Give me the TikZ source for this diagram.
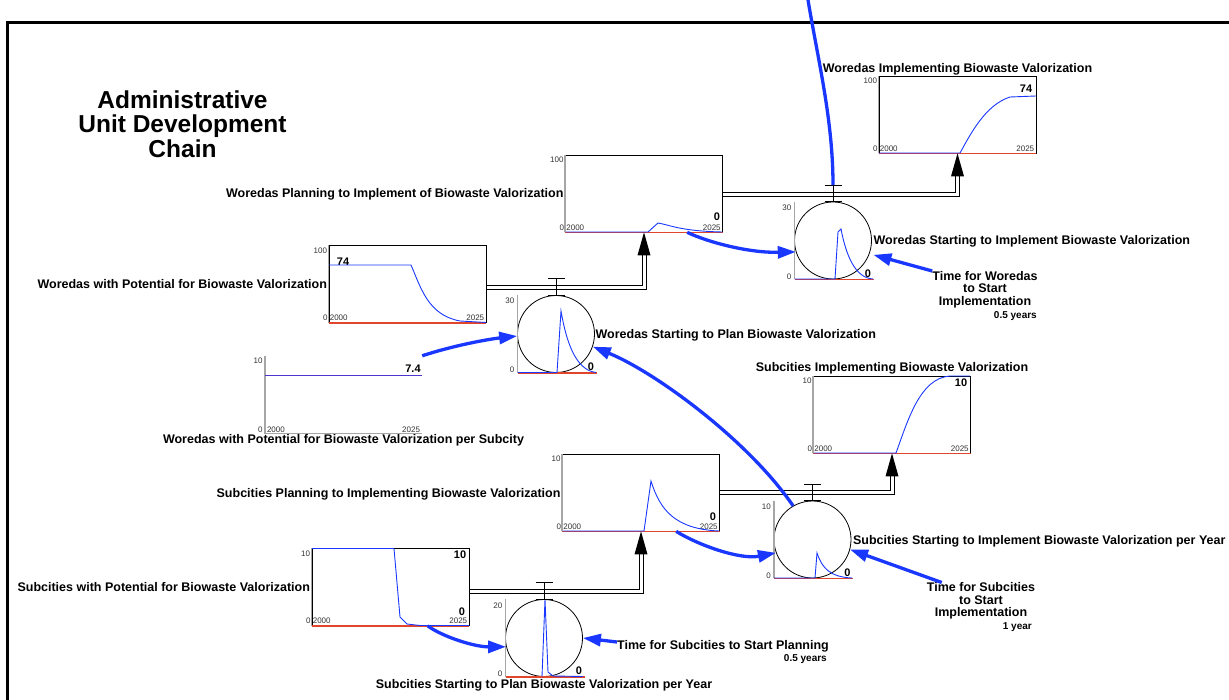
\documentclass[tikz,border=0pt]{standalone}
\usepackage{fontspec}
\setmainfont{Liberation Sans}
\usetikzlibrary{positioning,arrows.meta}
\definecolor{sdblue}{RGB}{25,55,255}
\definecolor{sdred}{RGB}{225,70,45}
\definecolor{sdpurple}{RGB}{75,55,205}
\tikzset{
  stock/.style={draw=black, line width=0.7pt, minimum width=157pt, minimum height=77pt, inner sep=0pt},
  flow/.style={circle, draw=black, line width=0.8pt, minimum size=77pt, inner sep=0pt},
  lbl/.style={font=\fontsize{12.5}{12.5}\selectfont\bfseries, inner sep=0pt, text height=9pt, text depth=0pt},
  mlbl/.style={font=\fontsize{12.5}{12.5}\selectfont\bfseries, inner sep=0pt, align=center},
  scalelbl/.style={font=\fontsize{8}{8}\selectfont, text=black!80, inner sep=0pt, text height=5.8pt, text depth=0pt},
  val/.style={font=\fontsize{11}{11}\selectfont\bfseries, inner sep=0pt, text height=8pt, text depth=0pt},
  unitlbl/.style={font=\fontsize{10}{10}\selectfont\bfseries, inner sep=0pt},
  axisline/.style={draw=black!35, line width=1.4pt},
  zeroline/.style={draw=sdred, line width=1.5pt},
  curve/.style={draw=sdblue, line width=0.9pt},
  pipeline/.style={draw=black, line width=0.8pt},
  valve/.style={draw=black, line width=0.9pt},
  link/.style={draw=sdblue, line width=3.3pt, -{Triangle[length=18pt,width=12pt]}},
  feed/.style={draw=sdblue, line width=3.3pt}
}
\begin{document}
\begin{tikzpicture}[x=1pt,y=-1pt]
  \useasboundingbox (0,0) rectangle (1229,700);
  \draw[line width=3pt] (7,700) -- (7,23) -- (1229,23);
  \node[font=\fontsize{24.5}{24.5}\selectfont\bfseries, align=center, inner sep=0pt] (title) at (182.5,124) {Administrative\\Unit Development\\Chain};

  % stocks
  \node[stock] (wpot) at (407.5,284) {};
  \node[stock] (wplan) at (644,193.5) {};
  \node[stock] (wimpl) at (957.5,114.5) {};
  \node[stock] (spot) at (390.5,587) {};
  \node[stock] (splan) at (641,492.5) {};
  \node[stock] (simpl) at (892,414.5) {};
  % flows
  \node[flow] (wsp) at (556,334) {};
  \node[flow] (wsi) at (833,240.5) {};
  \node[flow] (ssp) at (544,638) {};
  \node[flow] (ssi) at (812.5,539.5) {};
  % converter
  \node[minimum width=157pt, minimum height=77pt, inner sep=0pt] (wpsc) at (343.5,394.5) {};

  \node[lbl, left=1.5pt of wpot] (wpotl) {Woredas with Potential for Biowaste Valorization};
  \node[lbl, left=1.5pt of wplan] (wplanl) {Woredas Planning to Implement of Biowaste Valorization};
  \node[lbl, above=2.5pt of wimpl] (wimpll) {Woredas Implementing Biowaste Valorization};
  \node[lbl, left=1.5pt of spot] (spotl) {Subcities with Potential for Biowaste Valorization};
  \node[lbl, left=1.5pt of splan] (splanl) {Subcities Planning to Implementing Biowaste Valorization};
  \node[lbl, above=3.5pt of simpl] (simpll) {Subcities Implementing Biowaste Valorization};
  \node[lbl, right=0.5pt of wsp] (wspl) {Woredas Starting to Plan Biowaste Valorization};
  \node[lbl, right=1.5pt of wsi] (wsil) {Woredas Starting to Implement Biowaste Valorization};
  \node[lbl, below=2pt of ssp] (sspl) {Subcities Starting to Plan Biowaste Valorization per Year};
  \node[lbl, right=1.5pt of ssi] (ssil) {Subcities Starting to Implement Biowaste Valorization per Year};
  \node[lbl, below=1pt of wpsc] (wpscl) {Woredas with Potential for Biowaste Valorization per Subcity};

  \node[mlbl, anchor=north] (twsi) at (985,271) {Time for Woredas\\to Start\\Implementation};
  \node[unitlbl, anchor=base east] (twsiv) at (1037,319) {0.5 years};
  \node[mlbl, anchor=north] (tssi) at (981,582.5) {Time for Subcities\\to Start\\Implementation};
  \node[unitlbl, anchor=base east] (tssiv) at (1032,629.5) {1 year};
  \node[lbl, anchor=west] (tssp) at (617,645) {Time for Subcities to Start Planning};
  \node[unitlbl, anchor=base east] (tsspv) at (827,661.5) {0.5 years};

  \foreach \s/\m in {wpot/100,wplan/100,wimpl/100,spot/10,splan/10,simpl/10}{
    \draw[axisline] (\s.south west) -- (\s.north west);
    \draw[zeroline] (\s.south west) -- (\s.south east);
    \node[scalelbl, anchor=east] (\s-max) at ([xshift=-1.5pt,yshift=-5pt]\s.north west) {\m};
    \node[scalelbl, anchor=east] (\s-min) at ([xshift=-1pt,yshift=5pt]\s.south west) {0};
    \node[scalelbl, anchor=west] (\s-t0) at ([xshift=1pt,yshift=5pt]\s.south west) {2000};
    \node[scalelbl, anchor=east] (\s-t1) at ([xshift=-2pt,yshift=5pt]\s.south east) {2025};
  }
  \foreach \f/\m in {wsp/30,wsi/30,ssp/20,ssi/10}{
    \draw[axisline] ([xshift=-38.5pt]\f.north) -- ([xshift=-38.5pt]\f.south);
    \draw[zeroline] ([xshift=-38.5pt]\f.south) -- ([xshift=40.5pt]\f.south);
    \node[scalelbl, anchor=east] (\f-max) at ([xshift=-41.5pt,yshift=-6pt]\f.north) {\m};
    \node[scalelbl, anchor=east] (\f-min) at ([xshift=-41.5pt,yshift=3pt]\f.south) {0};
    \node[val] (\f-val) at ([xshift=35pt,yshift=6pt]\f.south) {0};
  }
  \draw[axisline] (wpsc.north west) -- (wpsc.south west) -- (wpsc.south east);
  \node[scalelbl, anchor=east] (wpsc-max) at ([xshift=-2pt,yshift=-5pt]wpsc.north west) {10};
  \node[scalelbl, anchor=east] (wpsc-min) at ([xshift=-2pt,yshift=4pt]wpsc.south west) {0};
  \node[scalelbl, anchor=west] (wpsc-t0) at ([xshift=2pt,yshift=4pt]wpsc.south west) {2000};
  \node[scalelbl, anchor=east] (wpsc-t1) at ([xshift=-2pt,yshift=4pt]wpsc.south east) {2025};
  \draw[curve, draw=sdpurple] ([yshift=-20pt]wpsc.north west) -- ([yshift=-20pt]wpsc.north east);

  % values
  \node[val] (wpotv) at (343,262) {74};
  \node[val] (wplanv) at (717,217) {0};
  \node[val] (wimplv) at (1026,89) {74};
  \node[val] (spotv) at (460,554) {10};
  \node[val] (spotw) at (462,611) {0};
  \node[val] (splanv) at (713,516) {0};
  \node[val] (simplv) at (961,383) {10};
  \node[val] (wpscv) at (413,369) {7.4};

  % behaviour over time
  \draw[curve] (329,265) -- (411,265) .. controls (421,288) and (428,315) .. (460,321) -- (486,322.5);
  \draw[curve] (566,232) -- (648,232) -- (658,223) .. controls (670,225) and (680,231) .. (722,232);
  \draw[curve] (879,153) -- (960,153) .. controls (970,135) and (985,105) .. (1010,97) -- (1036,96);
  \draw[curve] (312,548.5) -- (394,548.5) -- (400,617) -- (407,624) -- (420,625.5) -- (469,625.5);
  \draw[curve] (563,531) -- (644,531) -- (651,481) .. controls (660,510) and (675,529) .. (719,531);
  \draw[curve] (814,453) -- (896,453) .. controls (908,420) and (920,378) .. (950,376) -- (970,376);
  \draw[curve] (518,372.5) -- (557,372.5) -- (561,311) .. controls (566,340) and (575,370) .. (596,372.5);
  \draw[curve] (794.5,279) -- (835,279) -- (838,232) -- (841,229) .. controls (846,255) and (855,278) .. (873,279);
  \draw[curve] (542,676.5) -- (545,599.5) -- (548,672) -- (553,676) -- (583,676.5);
  \draw[curve] (774,578) -- (815,578) -- (817,553) .. controls (822,568) and (830,577) .. (852,578);

  % pipes
  \draw[pipeline] ([yshift=-1pt]wpot.east) -| ([xshift=-2pt,yshift=-22pt]wplan.south);
  \draw[pipeline] ([yshift=-5pt]wpot.east) -| ([xshift=2pt,yshift=-22pt]wplan.south);
  \fill (wplan.south) -- ++(-6.5,23) -- ++(13,0) -- cycle;
  \draw[pipeline] ([yshift=1pt]wplan.east) -| ([xshift=-2pt,yshift=-22pt]wimpl.south);
  \draw[pipeline] ([yshift=-3pt]wplan.east) -| ([xshift=2pt,yshift=-22pt]wimpl.south);
  \fill (wimpl.south) -- ++(-6.5,23) -- ++(13,0) -- cycle;
  \draw[pipeline] ([yshift=-2pt]spot.east) -| ([xshift=-2pt,yshift=-22pt]splan.south);
  \draw[pipeline] ([yshift=-6pt]spot.east) -| ([xshift=2pt,yshift=-22pt]splan.south);
  \fill (splan.south) -- ++(-6.5,23) -- ++(13,0) -- cycle;
  \draw[pipeline] ([yshift=2pt]splan.east) -| ([xshift=-2pt,yshift=-22pt]simpl.south);
  \draw[pipeline] ([yshift=-2pt]splan.east) -| ([xshift=2pt,yshift=-22pt]simpl.south);
  \fill (simpl.south) -- ++(-6.5,23) -- ++(13,0) -- cycle;

  % valves
  \foreach \f in {wsp,wsi,ssp,ssi}{
    \draw[valve] (\f.north) -- ++(0,-16.5) coordinate (\f-valve) ++(-8.5,0) -- ++(17,0);
    \draw[valve] ([xshift=-8.5pt]\f.north) -- ++(17,0);
  }

  % links
  \coordinate (feedsrc) at (808,0);
  \draw[feed] (feedsrc) .. controls (818,60) and (833,120) .. (wsi-valve);
  \draw[link] (wpsc.north east) .. controls (455,345) and (490,339) .. (wsp.183);
  \draw[link] (ssi.120) .. controls (748,440) and (655,372) .. (wsp.-19);
  \draw[link] ([xshift=122pt]wplan.south west) .. controls (710,243) and (750,253) .. (wsi.197);
  \draw[link] ([xshift=114pt]splan.south west) .. controls (698,545) and (740,560) .. (ssi.200);
  \draw[link] ([xshift=116pt]spot.south west) .. controls (443,637) and (475,647) .. (ssp.193);
  \draw[link, shorten >=4pt] (twsi.north west) -- (wsi.-20);
  \draw[link] ([xshift=15pt]tssi.north west) -- (ssi.-15);
  \draw[link] ([yshift=3pt]tssp.west) -- (ssp.east);
\end{tikzpicture}
\end{document}
